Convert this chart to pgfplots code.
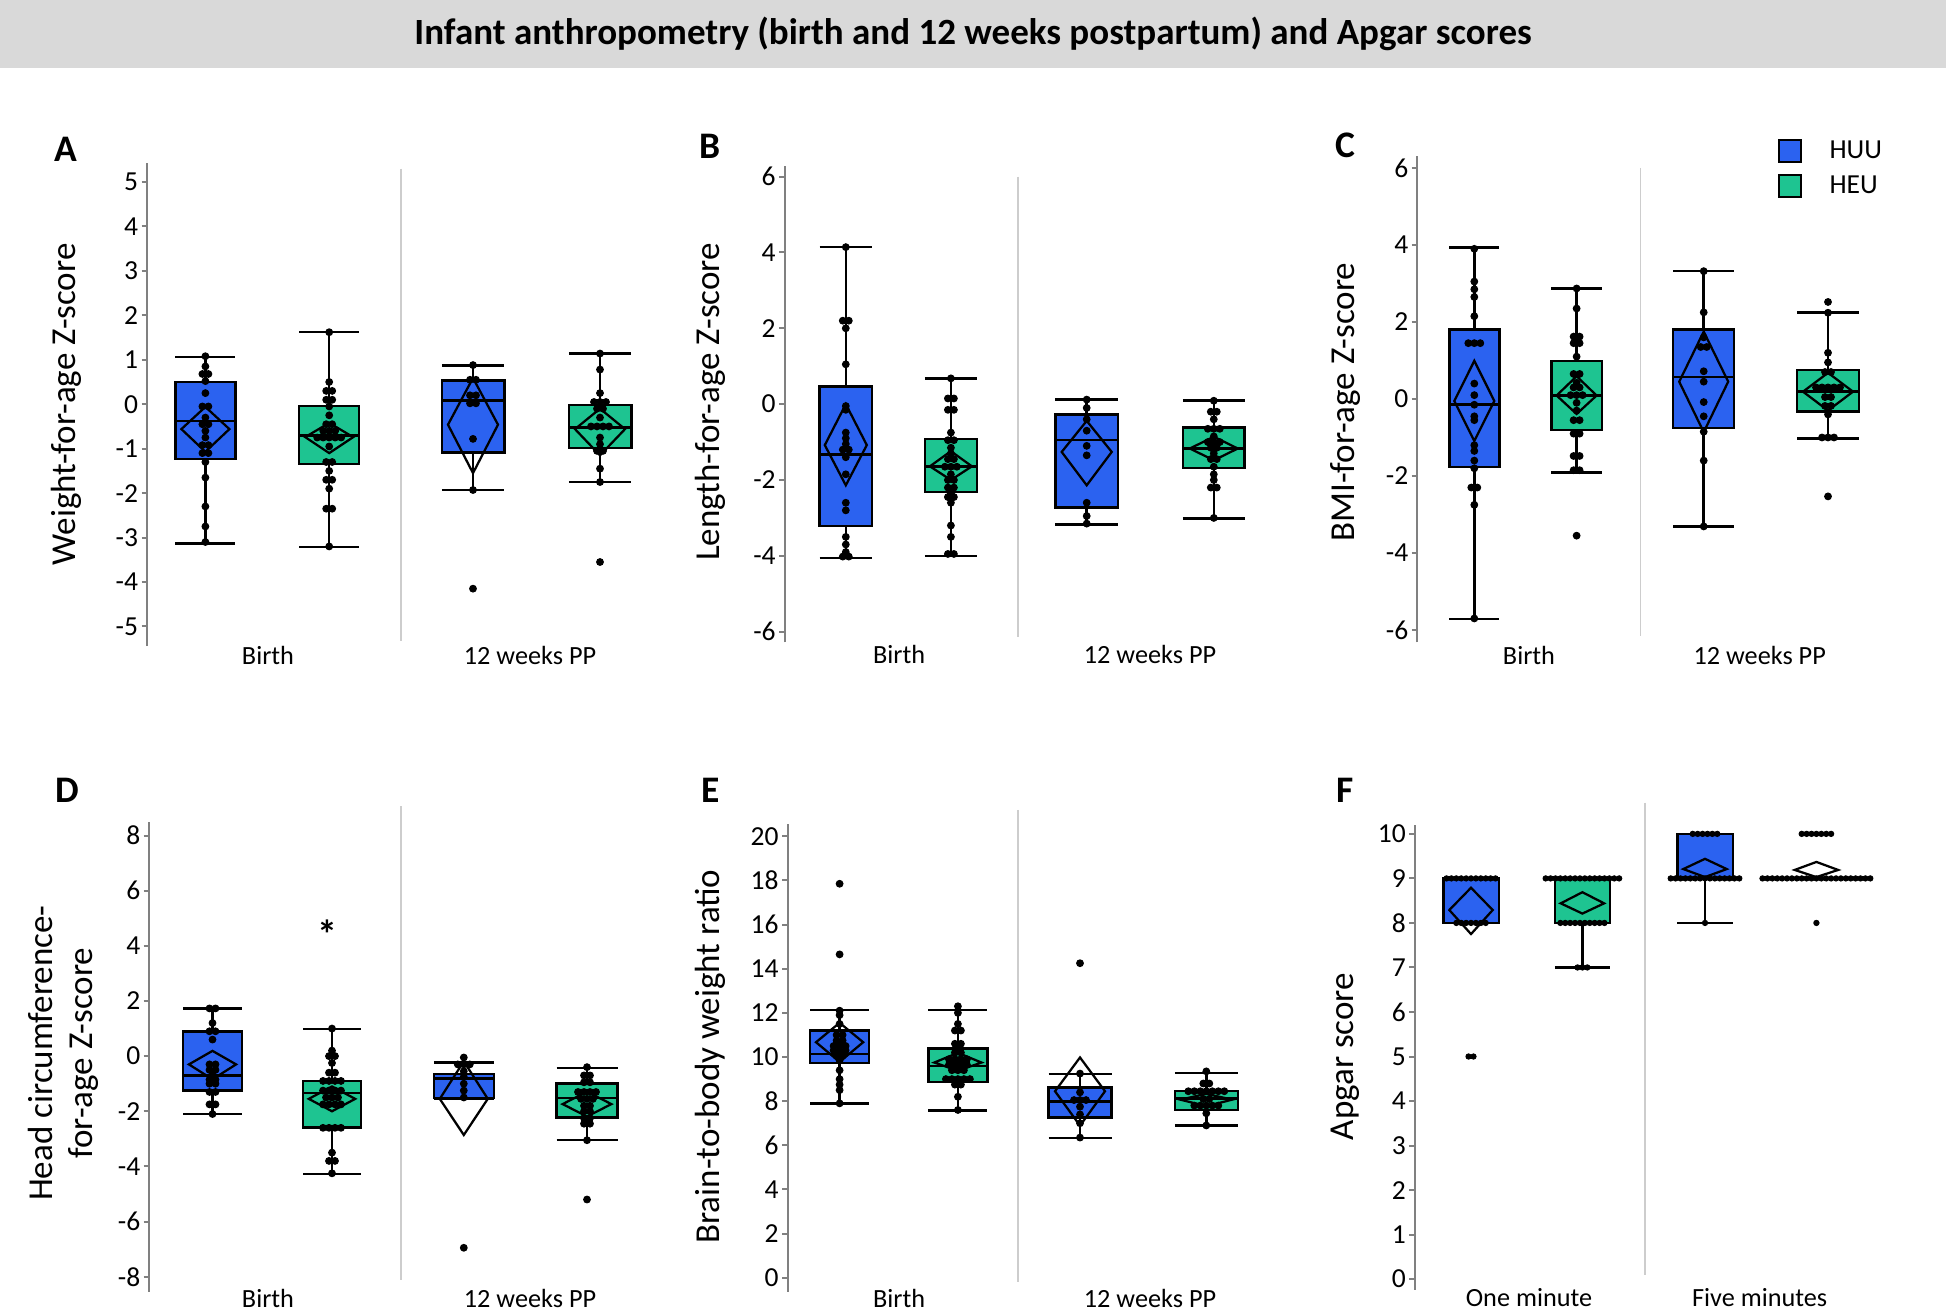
\documentclass[border=0pt]{standalone}
\usepackage{fontspec}
\setmainfont{Carlito}
\usepackage{pgfplots}
\pgfplotsset{compat=1.18}
\usepackage{pgfplotstable}
\definecolor{huu}{RGB}{43,98,240}
\definecolor{heu}{RGB}{30,196,145}
\definecolor{axgray}{RGB}{128,128,128}
\definecolor{divgray}{RGB}{205,205,205}
\definecolor{titlegray}{RGB}{217,217,217}

\pgfplotsset{
 wk/.style={draw=black, line width=1pt, no markers, line join=miter},
}
% box: #1 centre, #2 width, #3 lower whisker, #4 Q1, #5 median, #6 Q3, #7 upper whisker, #8 colour
\newcommand{\bx}[8]{%
\addplot[wk] table[row sep=\\, x expr={#1+\thisrow{d}*#2/2}, y=v] {d v\\ 0 #6\\ 0 #7\\};
\addplot[wk] table[row sep=\\, x expr={#1+\thisrow{d}*#2/2}, y=v] {d v\\ -1 #7\\ 1 #7\\};
\addplot[wk] table[row sep=\\, x expr={#1+\thisrow{d}*#2/2}, y=v] {d v\\ 0 #4\\ 0 #3\\};
\addplot[wk] table[row sep=\\, x expr={#1+\thisrow{d}*#2/2}, y=v] {d v\\ -1 #3\\ 1 #3\\};
\addplot[wk, fill=#8] table[row sep=\\, x expr={#1+\thisrow{d}*#2/2}, y=v] {d v\\ -1 #4\\ 1 #4\\ 1 #6\\ -1 #6\\} -- cycle;
\addplot[wk] table[row sep=\\, x expr={#1+\thisrow{d}*#2/2}, y=v] {d v\\ -1 #5\\ 1 #5\\};
}
% mean diamond: #1 centre, #2 half width, #3 mean, #4 lower CI, #5 upper CI
\newcommand{\dm}[5]{\addplot[draw=black, line width=0.9pt, line join=miter, no markers] table[row sep=\\, x expr={#1+\thisrow{d}*#2}, y=v] {d v\\ -1 #3\\ 0 #5\\ 1 #3\\ 0 #4\\} -- cycle;}
\newcommand{\ylabf}{\fontsize{14}{15.8}\selectfont}
\newcommand{\catf}{\fontsize{10.5}{12}\selectfont}
\newcommand{\letf}{\bfseries\fontsize{15}{18}\selectfont}

\pgfplotsset{
 panel/.style={
  anchor=south west, x=0.4pt, clip=false,
  axis x line=none, axis y line*=left,
  y axis line style={draw=axgray, line width=0.8pt},
  ytick style={draw=axgray, line width=0.8pt},
  tick align=outside, major tick length=2.2pt,
  yticklabel style={font=\fontsize{11}{13}\selectfont, inner sep=1.2pt},
  /pgf/number format/assume math mode=true,
  xmin=0, xmax=480,
 },
 dots/.style={only marks, mark=*, mark size=1.35pt, black},
}

% ---------------- Panel A data (x = box centre, k = beeswarm offset, v = value)
\pgfplotstableread{
x k v
58.4 0 1.08
58.4 0 0.85
58.4 -0.5 0.68
58.4 0.5 0.68
58.4 0 0.52
58.4 0 0.25
58.4 -0.5 -0.05
58.4 0.5 -0.05
58.4 0 -0.3
58.4 -0.5 -0.45
58.4 0.5 -0.45
58.4 0 -0.6
58.4 0 -0.75
58.4 -0.5 -0.92
58.4 0.5 -0.92
58.4 -0.5 -1.1
58.4 0.5 -1.1
58.4 0 -1.3
58.4 0 -1.65
58.4 0 -2.3
58.4 0 -2.75
58.4 0 -3.1
182.2 0 1.62
182.2 0 0.5
182.2 -0.5 0.3
182.2 0.5 0.3
182.2 -0.5 0.1
182.2 0.5 0.1
182.2 0 -0.05
182.2 0 -0.25
182.2 -0.5 -0.45
182.2 0.5 -0.45
182.2 -1 -0.6
182.2 0 -0.6
182.2 1 -0.6
182.2 -2 -0.75
182.2 -1 -0.75
182.2 0 -0.75
182.2 1 -0.75
182.2 2 -0.75
182.2 0 -0.95
182.2 -0.5 -1.3
182.2 0.5 -1.3
182.2 0 -1.5
182.2 -0.5 -1.7
182.2 0.5 -1.7
182.2 0 -1.9
182.2 -0.5 -2.35
182.2 0.5 -2.35
182.2 0 -3.2
326 0 0.88
326 -0.5 0.55
326 0.5 0.55
326 -0.5 0.2
326 0.5 0.2
326 -0.5 0.02
326 0.5 0.02
326 0 -0.78
326 0 -1.93
326 0 -4.15
453 0 1.14
453 0 0.78
453 0 0.25
453 -1 0.05
453 0 0.05
453 1 0.05
453 -0.5 -0.1
453 0.5 -0.1
453 0 -0.3
453 -1.5 -0.5
453 -0.5 -0.5
453 0.5 -0.5
453 1.5 -0.5
453 0 -0.75
453 0 -0.9
453 -0.5 -1.05
453 0.5 -1.05
453 0 -1.45
453 0 -1.75
453 0 -3.55
}\dA

% ---------------- Panel B
\pgfplotstableread{
x k v
61.2 0 4.14
61.2 -0.5 2.2
61.2 0.5 2.2
61.2 0 2.0
61.2 0 1.05
61.2 0 -0.05
61.2 0 -0.15
61.2 0 -0.75
61.2 0 -0.9
61.2 0 -1.05
61.2 -0.5 -1.2
61.2 0.5 -1.2
61.2 0 -1.4
61.2 0 -1.85
61.2 0 -2.6
61.2 0 -2.8
61.2 0 -3.5
61.2 0 -3.7
61.2 0 -3.9
61.2 -0.5 -4.02
61.2 0.5 -4.02
166.3 0 0.68
166.3 -0.5 0.15
166.3 0.5 0.15
166.3 -0.5 -0.15
166.3 0.5 -0.15
166.3 0 -0.75
166.3 -0.5 -0.95
166.3 0.5 -0.95
166.3 0 -1.15
166.3 0 -1.3
166.3 -0.5 -1.45
166.3 0.5 -1.45
166.3 -1 -1.65
166.3 0 -1.65
166.3 1 -1.65
166.3 0 -1.85
166.3 -0.5 -2.0
166.3 0.5 -2.0
166.3 -0.5 -2.2
166.3 0.5 -2.2
166.3 0 -2.35
166.3 -0.5 -2.45
166.3 0.5 -2.45
166.3 0 -2.6
166.3 0 -3.2
166.3 0 -3.5
166.3 -0.5 -3.95
166.3 0.5 -3.95
302.1 0 0.12
302.1 0 -0.1
302.1 0 -0.4
302.1 0 -0.7
302.1 0 -1.1
302.1 0 -1.35
302.1 0 -2.6
302.1 0 -2.95
302.1 0 -3.15
429.2 0 0.09
429.2 -0.5 -0.2
429.2 0.5 -0.2
429.2 0 -0.4
429.2 -1 -0.65
429.2 0 -0.65
429.2 1 -0.65
429.2 0 -0.85
429.2 -1 -1.0
429.2 0 -1.0
429.2 1 -1.0
429.2 -0.5 -1.15
429.2 0.5 -1.15
429.2 0 -1.3
429.2 -0.5 -1.45
429.2 0.5 -1.45
429.2 0 -1.65
429.2 0 -1.85
429.2 0 -2.0
429.2 -0.5 -2.2
429.2 0.5 -2.2
429.2 0 -3.0
}\dB

% ---------------- Panel C
\pgfplotstableread{
x k v
57.1 0 3.9
57.1 0 3.05
57.1 0 2.85
57.1 0 2.65
57.1 0 2.15
57.1 -1 1.45
57.1 0 1.45
57.1 1 1.45
57.1 0 0.4
57.1 0 0.1
57.1 0 -0.15
57.1 0 -0.45
57.1 0 -0.55
57.1 0 -1.2
57.1 0 -1.35
57.1 0 -1.6
57.1 0 -1.8
57.1 -0.5 -2.3
57.1 0.5 -2.3
57.1 0 -2.75
57.1 0 -5.7
159.4 0 2.87
159.4 0 2.35
159.4 -0.5 1.62
159.4 0.5 1.62
159.4 -0.5 1.45
159.4 0.5 1.45
159.4 0 1.1
159.4 -0.5 0.65
159.4 0.5 0.65
159.4 0 0.42
159.4 -0.5 0.3
159.4 0.5 0.3
159.4 -1 0.1
159.4 0 0.1
159.4 1 0.1
159.4 0 -0.1
159.4 0 -0.3
159.4 -0.5 -0.55
159.4 0.5 -0.55
159.4 -0.5 -0.9
159.4 0.5 -0.9
159.4 -0.5 -1.48
159.4 0.5 -1.48
159.4 -0.5 -1.85
159.4 0.5 -1.85
159.4 0 -3.55
286.5 0 3.32
286.5 0 2.25
286.5 0 1.6
286.5 -0.5 1.35
286.5 0.5 1.35
286.5 0 0.72
286.5 0 0.45
286.5 0 -0.08
286.5 0 -0.45
286.5 0 -0.85
286.5 0 -1.6
286.5 0 -3.31
410.8 0 2.52
410.8 0 2.24
410.8 0 1.2
410.8 0 0.95
410.8 -0.5 0.7
410.8 0.5 0.7
410.8 -2 0.3
410.8 -1 0.3
410.8 0 0.3
410.8 1 0.3
410.8 2 0.3
410.8 -0.5 0.05
410.8 0.5 0.05
410.8 -0.5 -0.18
410.8 0.5 -0.18
410.8 0 -0.4
410.8 -1 -1.0
410.8 0 -1.0
410.8 1 -1.0
410.8 0 -2.53
}\dC

% ---------------- Panel D
\pgfplotstableread{
x k v
63.3 -0.5 1.73
63.3 0.5 1.73
63.3 0 1.2
63.3 -0.5 0.9
63.3 0.5 0.9
63.3 0 0.6
63.3 -0.5 -0.3
63.3 0.5 -0.3
63.3 -0.5 -0.5
63.3 0.5 -0.5
63.3 0 -0.7
63.3 -0.5 -0.85
63.3 0.5 -0.85
63.3 -0.5 -1.0
63.3 0.5 -1.0
63.3 -0.5 -1.3
63.3 0.5 -1.3
63.3 -0.5 -1.75
63.3 0.5 -1.75
63.3 0 -2.1
182.8 0 1.0
182.8 0 0.2
182.8 -0.5 0.0
182.8 0.5 0.0
182.8 0 -0.25
182.8 -0.5 -0.6
182.8 0.5 -0.6
182.8 -1.5 -0.9
182.8 -0.5 -0.9
182.8 0.5 -0.9
182.8 1.5 -0.9
182.8 -1.5 -1.25
182.8 -0.5 -1.25
182.8 0.5 -1.25
182.8 1.5 -1.25
182.8 -1 -1.5
182.8 0 -1.5
182.8 1 -1.5
182.8 -1.5 -1.75
182.8 -0.5 -1.75
182.8 0.5 -1.75
182.8 1.5 -1.75
182.8 -1.5 -2.6
182.8 -0.5 -2.6
182.8 0.5 -2.6
182.8 1.5 -2.6
182.8 0 -3.5
182.8 -0.5 -3.8
182.8 0.5 -3.8
182.8 0 -4.25
314.6 0 -0.05
314.6 -1 -0.3
314.6 0 -0.3
314.6 1 -0.3
314.6 0 -0.55
314.6 0 -0.75
314.6 0 -1.0
314.6 0 -1.25
314.6 0 -1.5
314.6 0 -6.95
437.8 0 -0.4
437.8 -0.5 -0.7
437.8 0.5 -0.7
437.8 -0.5 -0.95
437.8 0.5 -0.95
437.8 -1.5 -1.3
437.8 -0.5 -1.3
437.8 0.5 -1.3
437.8 1.5 -1.3
437.8 -1 -1.55
437.8 0 -1.55
437.8 1 -1.55
437.8 -0.5 -1.8
437.8 0.5 -1.8
437.8 -0.5 -2.0
437.8 0.5 -2.0
437.8 -0.5 -2.25
437.8 0.5 -2.25
437.8 -0.5 -2.45
437.8 0.5 -2.45
437.8 0 -3.05
437.8 0 -5.2
}\dD

% ---------------- Panel E
\pgfplotstableread{
x k v
52.1 0 17.85
52.1 0 14.65
52.1 0 12.1
52.1 0 11.9
52.1 0 11.5
52.1 -0.5 11.0
52.1 0.5 11.0
52.1 -0.5 10.75
52.1 0.5 10.75
52.1 -1 10.5
52.1 0 10.5
52.1 1 10.5
52.1 -1 10.3
52.1 0 10.3
52.1 1 10.3
52.1 -0.5 10.05
52.1 0.5 10.05
52.1 0 9.85
52.1 0 9.4
52.1 0 9.0
52.1 0 8.75
52.1 0 8.5
52.1 0 7.9
170.4 0 12.3
170.4 0 12.0
170.4 0 11.5
170.4 -0.5 11.2
170.4 0.5 11.2
170.4 -0.5 10.6
170.4 0.5 10.6
170.4 0 10.4
170.4 -0.5 10.2
170.4 0.5 10.2
170.4 -1.5 9.9
170.4 -0.5 9.9
170.4 0.5 9.9
170.4 1.5 9.9
170.4 -1.5 9.65
170.4 -0.5 9.65
170.4 0.5 9.65
170.4 1.5 9.65
170.4 -1 9.4
170.4 0 9.4
170.4 1 9.4
170.4 -2 9.0
170.4 -1 9.0
170.4 0 9.0
170.4 1 9.0
170.4 2 9.0
170.4 -0.5 8.75
170.4 0.5 8.75
170.4 0 8.2
170.4 0 7.6
292.5 0 14.25
292.5 0 9.25
292.5 0 8.4
292.5 -1 8.05
292.5 0 8.05
292.5 1 8.05
292.5 0 7.75
292.5 0 7.4
292.5 0 7.0
292.5 0 6.35
418.8 0 9.35
418.8 -0.5 8.8
418.8 0.5 8.8
418.8 -3 8.45
418.8 -2 8.45
418.8 -1 8.45
418.8 0 8.45
418.8 1 8.45
418.8 2 8.45
418.8 3 8.45
418.8 -0.5 8.1
418.8 0.5 8.1
418.8 -2 7.8
418.8 -1 7.8
418.8 0 7.8
418.8 1 7.8
418.8 2 7.8
418.8 0 7.45
418.8 0 6.9
}\dE

% ---------------- Panel F (Apgar, integer scores)
\pgfplotstableread{
x k v
56.3 -5 9
56.3 -4 9
56.3 -3 9
56.3 -2 9
56.3 -1 9
56.3 0 9
56.3 1 9
56.3 2 9
56.3 3 9
56.3 4 9
56.3 5 9
56.3 -3 8
56.3 -2 8
56.3 -1 8
56.3 0 8
56.3 1 8
56.3 2 8
56.3 3 8
56.3 -0.5 5
56.3 0.5 5
167.7 -7.5 9
167.7 -6.5 9
167.7 -5.5 9
167.7 -4.5 9
167.7 -3.5 9
167.7 -2.5 9
167.7 -1.5 9
167.7 -0.5 9
167.7 0.5 9
167.7 1.5 9
167.7 2.5 9
167.7 3.5 9
167.7 4.5 9
167.7 5.5 9
167.7 6.5 9
167.7 7.5 9
167.7 -4.5 8
167.7 -3.5 8
167.7 -2.5 8
167.7 -1.5 8
167.7 -0.5 8
167.7 0.5 8
167.7 1.5 8
167.7 2.5 8
167.7 3.5 8
167.7 4.5 8
167.7 -1 7
167.7 0 7
167.7 1 7
290.3 -2.5 10
290.3 -1.5 10
290.3 -0.5 10
290.3 0.5 10
290.3 1.5 10
290.3 2.5 10
290.3 -7 9
290.3 -6 9
290.3 -5 9
290.3 -4 9
290.3 -3 9
290.3 -2 9
290.3 -1 9
290.3 0 9
290.3 1 9
290.3 2 9
290.3 3 9
290.3 4 9
290.3 5 9
290.3 6 9
290.3 7 9
290.3 0 8
401.7 -3 10
401.7 -2 10
401.7 -1 10
401.7 0 10
401.7 1 10
401.7 2 10
401.7 3 10
401.7 -11 9
401.7 -10 9
401.7 -9 9
401.7 -8 9
401.7 -7 9
401.7 -6 9
401.7 -5 9
401.7 -4 9
401.7 -3 9
401.7 -2 9
401.7 -1 9
401.7 0 9
401.7 1 9
401.7 2 9
401.7 3 9
401.7 4 9
401.7 5 9
401.7 6 9
401.7 7 9
401.7 8 9
401.7 9 9
401.7 10 9
401.7 11 9
401.7 0 8
}\dF

\begin{document}
\begin{tikzpicture}
\useasboundingbox (0,0) rectangle (778.4pt,-525.6pt);
\fill[titlegray] (0,0) rectangle (778.4pt,-27.2pt);
\node[font=\bfseries\fontsize{14.8}{17}\selectfont] at (389.2pt,-13.6pt) {Infant anthropometry (birth and 12 weeks postpartum) and Apgar scores};

% ======== A
\begin{axis}[panel, at={(58.8pt,-258.4pt)}, y=17.78pt, ymin=-5.44, ymax=5.42, ytick={-5,-4,...,5}]
\draw[divgray, line width=0.6pt] (axis cs:253.9,5.30) -- (axis cs:253.9,-5.32);
\bx{58.4}{60}{-3.13}{-1.23}{-0.38}{0.50}{1.06}{huu}
\bx{182.2}{60}{-3.21}{-1.35}{-0.70}{-0.04}{1.62}{heu}
\bx{326}{62.5}{-1.93}{-1.09}{0.08}{0.53}{0.87}{huu}
\bx{453}{62.5}{-1.75}{-0.99}{-0.52}{-0.02}{1.14}{heu}
\dm{58.4}{24}{-0.56}{-1.07}{-0.06}
\dm{182.2}{24}{-0.74}{-1.1}{-0.42}
\dm{326}{25}{-0.46}{-1.55}{0.59}
\dm{453}{25}{-0.56}{-1.15}{-0.1}
\addplot[dots] table[x expr=\thisrow{x}+6*\thisrow{k}, y=v] {\dA};
\node[rotate=90, font=\ylabf] at (axis cs:-80.3,0) {Weight-for-age Z-score};
\node[anchor=base, font=\catf] at (axis cs:121,-5.85) {Birth};
\node[anchor=base, font=\catf] at (axis cs:383,-5.85) {12 weeks PP};
\node[anchor=base west, inner sep=0pt, font=\letf] at (axis cs:-92.8,5.45) {A};
\end{axis}

% ======== B
\begin{axis}[panel, at={(313.84pt,-256.92pt)}, y=15.17pt, ymin=-6.28, ymax=6.27, ytick={-6,-4,...,6}]
\draw[divgray, line width=0.6pt] (axis cs:233.4,6.0) -- (axis cs:233.4,-6.15);
\bx{61.2}{52.5}{-4.06}{-3.21}{-1.33}{0.46}{4.14}{huu}
\bx{166.3}{52}{-4.0}{-2.31}{-1.64}{-0.92}{0.68}{heu}
\bx{302.1}{62.5}{-3.18}{-2.73}{-0.94}{-0.27}{0.12}{huu}
\bx{429.2}{61.7}{-3.01}{-1.69}{-1.17}{-0.61}{0.09}{heu}
\dm{61.2}{21}{-1.08}{-2.14}{0.0}
\dm{166.3}{21}{-1.64}{-2.0}{-1.24}
\dm{302.1}{25}{-1.26}{-2.14}{-0.44}
\dm{429.2}{24}{-1.17}{-1.48}{-0.86}
\addplot[dots] table[x expr=\thisrow{x}+6*\thisrow{k}, y=v] {\dB};
\node[rotate=90, font=\ylabf] at (axis cs:-74.2,0.06) {Length-for-age Z-score};
\node[anchor=base, font=\catf] at (axis cs:114.6,-6.85) {Birth};
\node[anchor=base, font=\catf] at (axis cs:365.4,-6.85) {12 weeks PP};
\node[anchor=base west, inner sep=0pt, font=\letf] at (axis cs:-85.4,6.49) {B};
\end{axis}

% ======== C
\begin{axis}[panel, at={(566.88pt,-256.92pt)}, y=15.4pt, ymin=-6.32, ymax=6.31, ytick={-6,-4,...,6},
  legend style={draw=none, fill=none, at={(axis cs:360.8,6.84)}, anchor=north west, inner sep=0pt, outer sep=0pt,
  font=\fontsize{11}{13}\selectfont, row sep=1.5pt, column sep=9pt, nodes={inner sep=2pt}}, legend cell align=left]
\addlegendimage{legend image code/.code={\draw[fill=huu, draw=black, line width=0.8pt] (0pt,-4.4pt) rectangle (8.8pt,4.4pt);}}
\addlegendentry{HUU}
\addlegendimage{legend image code/.code={\draw[fill=heu, draw=black, line width=0.8pt] (0pt,-4.4pt) rectangle (8.8pt,4.4pt);}}
\addlegendentry{HEU}
\draw[divgray, line width=0.6pt] (axis cs:223.2,6.0) -- (axis cs:223.2,-6.15);
\bx{57.1}{50}{-5.71}{-1.77}{-0.14}{1.8}{3.93}{huu}
\bx{159.4}{50.5}{-1.91}{-0.81}{0.09}{0.99}{2.87}{heu}
\bx{286.5}{61}{-3.31}{-0.75}{0.57}{1.8}{3.32}{huu}
\bx{410.8}{62}{-1.02}{-0.33}{0.19}{0.75}{2.24}{heu}
\dm{57.1}{20}{-0.05}{-1.09}{0.99}
\dm{159.4}{20}{0.09}{-0.39}{0.59}
\dm{286.5}{24.5}{0.45}{-0.86}{1.75}
\dm{410.8}{25}{0.19}{-0.3}{0.68}
\addplot[dots] table[x expr=\thisrow{x}+6*\thisrow{k}, y=v] {\dC};
\node[rotate=90, font=\ylabf] at (axis cs:-71.7,-0.08) {BMI-for-age Z-score};
\node[anchor=base, font=\catf] at (axis cs:111.8,-6.89) {Birth};
\node[anchor=base, font=\catf] at (axis cs:342.5,-6.89) {12 weeks PP};
\node[anchor=base west, inner sep=0pt, font=\letf] at (axis cs:-82,6.26) {C};
\end{axis}

% ======== D
\begin{axis}[panel, at={(59.68pt,-516.64pt)}, y=11.03pt, ymin=-8.54, ymax=8.49, ytick={-8,-6,...,8}]
\draw[divgray, line width=0.6pt] (axis cs:251.7,9.07) -- (axis cs:251.7,-8.12);
\bx{63.3}{59}{-2.1}{-1.25}{-0.71}{0.89}{1.73}{huu}
\bx{182.8}{58}{-4.28}{-2.59}{-1.33}{-0.91}{0.98}{heu}
\bx{314.6}{60}{-1.55}{-1.51}{-0.81}{-0.64}{-0.23}{huu}
\bx{437.8}{61}{-3.05}{-2.22}{-1.52}{-1.0}{-0.43}{heu}
\dm{63.3}{23.6}{-0.3}{-0.84}{0.19}
\dm{182.8}{23.2}{-1.55}{-2.0}{-1.1}
\dm{314.6}{24}{-1.55}{-2.86}{-0.19}
\dm{437.8}{24.4}{-1.74}{-2.19}{-1.29}
\addplot[dots] table[x expr=\thisrow{x}+6*\thisrow{k}, y=v] {\dD};
\node[anchor=base, font=\bfseries\fontsize{16}{18}\selectfont] at (axis cs:177.9,3.9) {*};
\node[rotate=90, align=center, font=\ylabf] at (axis cs:-85.7,0.11) {Head circumference-\\for-age Z-score};
\node[anchor=base, font=\catf] at (axis cs:118.8,-9.1) {Birth};
\node[anchor=base, font=\catf] at (axis cs:380.8,-9.1) {12 weeks PP};
\node[anchor=base west, inner sep=0pt, font=\letf] at (axis cs:-93.8,9.19) {D};
\end{axis}

% ======== E
\begin{axis}[panel, at={(315pt,-516.64pt)}, y=8.828pt, ymin=-0.63, ymax=20.56, ytick={0,2,...,20}]
\draw[divgray, line width=0.6pt] (axis cs:230.5,21.2) -- (axis cs:230.5,-0.19);
\bx{52.1}{59}{7.9}{9.73}{10.14}{11.2}{12.12}{huu}
\bx{170.4}{59}{7.58}{8.87}{9.59}{10.39}{12.12}{heu}
\bx{292.5}{63}{6.32}{7.26}{7.98}{8.62}{9.24}{huu}
\bx{418.8}{63}{6.89}{7.61}{8.13}{8.45}{9.28}{heu}
\dm{52.1}{23.6}{10.67}{9.78}{11.55}
\dm{170.4}{23.6}{9.75}{9.38}{10.19}
\dm{292.5}{25}{8.45}{6.89}{9.98}
\dm{418.8}{26}{8.07}{7.77}{8.33}
\addplot[dots] table[x expr=\thisrow{x}+6*\thisrow{k}, y=v] {\dE};
\node[rotate=90, font=\ylabf] at (axis cs:-77.1,10.02) {Brain-to-body weight ratio};
\node[anchor=base, font=\catf] at (axis cs:111.7,-1.33) {Birth};
\node[anchor=base, font=\catf] at (axis cs:362.5,-1.33) {12 weeks PP};
\node[anchor=base west, inner sep=0pt, font=\letf] at (axis cs:-86.7,21.53) {E};
\end{axis}

% ======== F
\begin{axis}[panel, at={(565.88pt,-515.92pt)}, y=17.81pt, ymin=-0.24, ymax=10.2, ytick={0,1,...,10}]
\draw[divgray, line width=0.6pt] (axis cs:230.3,10.7) -- (axis cs:230.3,0.1);
\bx{56.3}{55.5}{8}{8}{9}{9}{9}{huu}
\bx{167.7}{55}{7}{8}{9}{9}{9}{heu}
\bx{290.3}{55.5}{8}{9}{9}{10}{10}{huu}
\dm{56.3}{21.7}{8.29}{7.75}{8.79}
\dm{167.7}{21.7}{8.44}{8.21}{8.69}
\dm{290.3}{21.7}{9.21}{9.03}{9.44}
\dm{401.7}{21.7}{9.19}{9.03}{9.37}
\addplot[only marks, mark=*, mark size=1.05pt, black] table[x expr=\thisrow{x}+4.9*\thisrow{k}, y=v] {\dF};
\node[rotate=90, font=\ylabf] at (axis cs:-69.2,5.0) {Apgar score};
\node[anchor=base, font=\catf] at (axis cs:114.3,-0.62) {One minute};
\node[anchor=base, font=\catf] at (axis cs:345,-0.62) {Five minutes};
\node[anchor=base west, inner sep=0pt, font=\letf] at (axis cs:-78.3,10.7) {F};
\end{axis}
\end{tikzpicture}
\end{document}
